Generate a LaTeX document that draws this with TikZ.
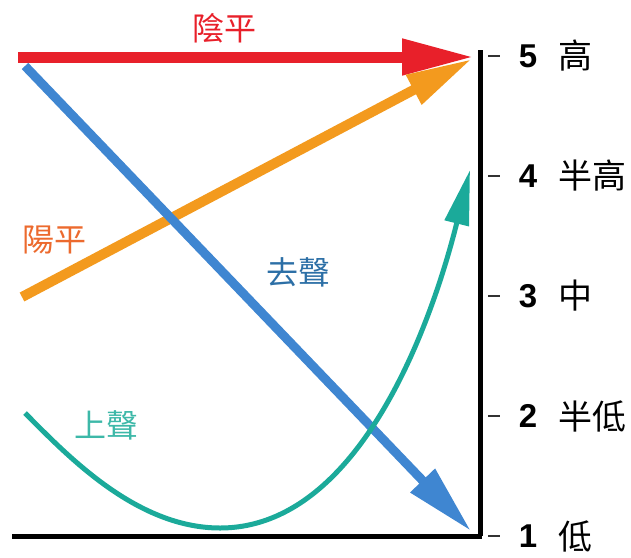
\documentclass[tikz,border=0pt]{standalone}
\usepackage{fontspec}
\setmainfont{Liberation Sans}
\newfontfamily\cjk{Noto Sans CJK TC}
\usetikzlibrary{arrows.meta}
\definecolor{cred}{HTML}{E8202A}
\definecolor{corange}{HTML}{F39A1E}
\definecolor{cblue}{HTML}{3F86D1}
\definecolor{cteal}{HTML}{1BAA9A}
\definecolor{lorange}{HTML}{EC6A2E}
\definecolor{lblue}{HTML}{2C6FA6}
\definecolor{lteal}{HTML}{3DB8A8}
\begin{document}
\begin{tikzpicture}[x=1pt,y=-1pt,
  lvl/.style={font=\bfseries\fontsize{33}{33}\selectfont,anchor=center,inner sep=0pt},
  lvltxt/.style={font=\cjk\fontsize{34}{34}\selectfont,anchor=west,inner sep=0pt},
  tonelbl/.style={font=\cjk\fontsize{32}{32}\selectfont,inner sep=0pt}]
\useasboundingbox (0,0) rectangle (631,557);
% axes
\coordinate (top) at (480,50);
\coordinate (corner) at (480,536);
\coordinate (left) at (12,536);
\draw[line width=5pt] (top) -- (corner);
\draw[line width=5pt] (left) -- (482,536);
% ticks and labels
\foreach \n/\y/\t in {5/56/高,4/176/半高,3/296/中,2/416/半低,1/536/低}{
  \coordinate (t\n a) at (488,\y);
  \coordinate (t\n b) at (500,\y);
  \draw[line width=1.6pt,black!80] (t\n a) -- (t\n b);
  \node[lvl] (d\n) at (528,\y) {\n};
  \node[lvltxt] (c\n) at (558,\y) {\t};
}
% tones
\coordinate (r1) at (18,57);
\coordinate (r2) at (474,57);
\draw[cred,line width=11pt,-{Triangle[length=72pt,width=34pt]}] (r1) -- (r2);
\coordinate (o1) at (22,297);
\coordinate (o2) at (472,59);
\draw[corange,line width=10pt,-{Triangle[length=66pt,width=31pt]}] (o1) -- (o2);
\coordinate (b1) at (25,66);
\coordinate (b2) at (471,531);
\draw[cblue,line width=9pt,-{Triangle[length=70pt,width=32pt]}] (b1) -- (b2);
\coordinate (g1) at (25,413);
\coordinate (g2) at (220,528);
\coordinate (g3) at (470,170);
\draw[cteal,line width=5pt,-{Triangle[length=55pt,width=24pt]}]
  (g1) .. controls (65,453) and (135,528) .. (g2)
       .. controls (357,528) and (430,330) .. (g3);
% tone labels
\node[tonelbl,text=cred] (l1) at (224,28) {陰平};
\node[tonelbl,text=lorange] (l2) at (54,240) {陽平};
\node[tonelbl,text=lblue] (l3) at (298,272) {去聲};
\node[tonelbl,text=lteal] (l4) at (106,425) {上聲};
\end{tikzpicture}
\end{document}
